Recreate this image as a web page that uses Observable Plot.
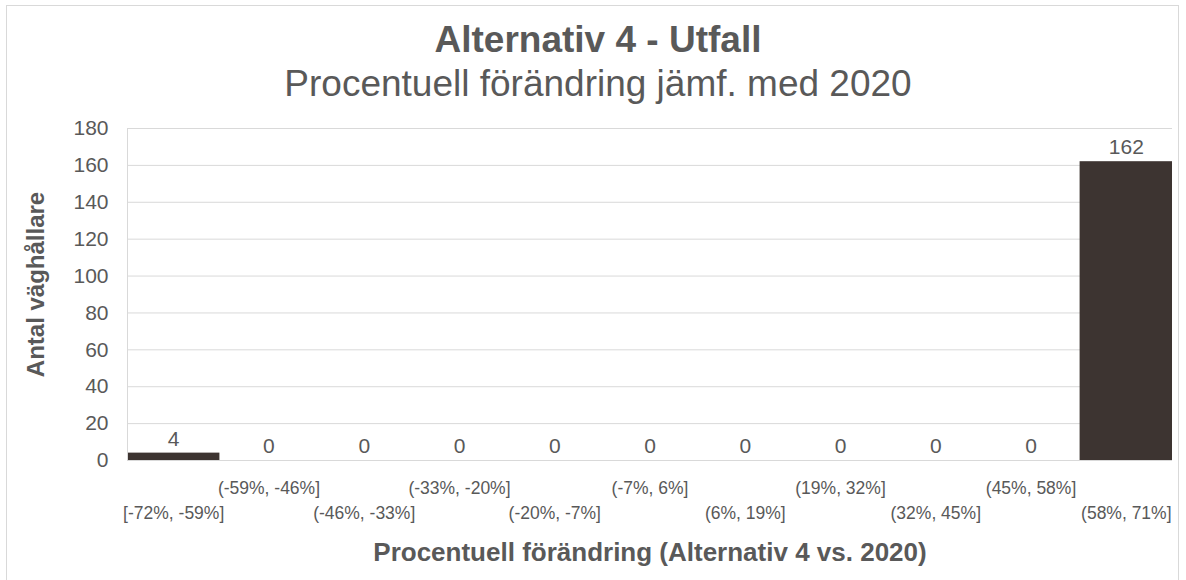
<!DOCTYPE html>
<html>
<head>
<meta charset="utf-8">
<script src="https://cdn.jsdelivr.net/npm/d3@7"></script>
<script src="https://cdn.jsdelivr.net/npm/@observablehq/plot@0.6"></script>
<style>
  body { margin: 0; background: #fff; }
  #wrap { position: relative; width: 1186px; height: 580px; overflow: hidden; background:#fff; }
  #border { position: absolute; left: 6px; top: 5px; width: 1173px; height: 590px; border: 1px solid #d9d9d9; box-sizing: border-box; }
  #yline { position: absolute; left: 127px; top: 128px; width: 1px; height: 332px; background: #d9d9d9; }
  #chart { position: absolute; left: 0; top: 0; }
</style>
</head>
<body>
<div id="wrap"><div id="border"></div><div id="chart"></div><div id="yline"></div></div>
<script>
const categories = ["[-72%, -59%]", "(-59%, -46%]", "(-46%, -33%]", "(-33%, -20%]", "(-20%, -7%]", "(-7%, 6%]", "(6%, 19%]", "(19%, 32%]", "(32%, 45%]", "(45%, 58%]", "(58%, 71%]"];
const values = [4, 0, 0, 0, 0, 0, 0, 0, 0, 0, 162];
const yTicks = [0, 20, 40, 60, 80, 100, 120, 140, 160, 180];
const title = "Alternativ 4 - Utfall";
const subtitle = "Procentuell förändring jämf. med 2020";
const xTitle = "Procentuell förändring (Alternativ 4 vs. 2020)";
const yTitle = "Antal väghållare";

const data = categories.map((c, i) => ({cat: c, val: values[i], i}));
const textColor = "#595959";

const chart = Plot.plot({
  width: 1186,
  height: 580,
  marginTop: 128,
  marginBottom: 120,
  marginLeft: 127,
  marginRight: 14,
  style: {fontFamily: "'Liberation Sans', Arial, sans-serif", color: textColor, background: "transparent"},
  x: {domain: categories, paddingInner: 0.03, paddingOuter: 0, round: false, axis: null},
  y: {domain: [0, 180], axis: null},
  marks: [
    Plot.ruleY(yTicks, {stroke: "#d9d9d9", strokeWidth: 1}),
    Plot.barY(data, {x: "cat", y: "val", fill: "#3d3431"}),
    Plot.axisY({ticks: yTicks, tickSize: 0, tickPadding: 19, fontSize: 21, label: null}),
    Plot.text(data, {x: "cat", y: "val", text: d => String(d.val), dy: -14, fontSize: 21, fill: textColor}),
    Plot.text(data.filter(d => d.i % 2 === 1), {x: "cat", text: "cat", frameAnchor: "bottom", lineAnchor: "middle", dy: 28, fontSize: 17.5, fill: textColor}),
    Plot.text(data.filter(d => d.i % 2 === 0), {x: "cat", text: "cat", frameAnchor: "bottom", lineAnchor: "middle", dy: 53, fontSize: 17.5, fill: textColor}),
    Plot.text([xTitle], {frameAnchor: "bottom", lineAnchor: "middle", dy: 92, fontSize: 26, fontWeight: "bold", fill: textColor}),
    Plot.text([yTitle], {frameAnchor: "left", textAnchor: "middle", lineAnchor: "middle", dx: -91, dy: -10, rotate: -90, fontSize: 24, fontWeight: "bold", fill: textColor}),
    Plot.text([title], {frameAnchor: "top", lineAnchor: "middle", dx: -52, dy: -88, fontSize: 37, fontWeight: "bold", fill: textColor}),
    Plot.text([subtitle], {frameAnchor: "top", lineAnchor: "middle", dx: -52, dy: -44, fontSize: 37, fill: textColor})
  ]
});
document.getElementById("chart").appendChild(chart);
</script>
</body>
</html>
